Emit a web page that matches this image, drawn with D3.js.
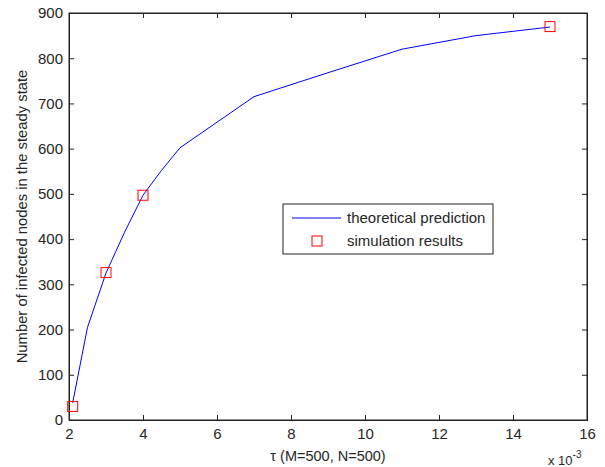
<!DOCTYPE html>
<html><head><meta charset="utf-8">
<script src="https://cdn.jsdelivr.net/npm/d3@7"></script>
<style>body{margin:0;background:#fff}svg{display:block}text{font-family:"Liberation Sans",Arial,sans-serif;fill:#262626}</style>
</head><body><svg id="c" width="605" height="467"></svg>
<script>
const theoryX = [2.1, 2.5, 3, 3.5, 4, 4.5, 5, 7, 9, 11, 13, 15];
const theoryY = [38, 205, 325, 415, 497, 552, 602, 715, 768, 820, 850, 869];
const simX = [2.1, 3, 4, 15];
const simY = [30, 326, 497, 870];
const xTicks = [2, 4, 6, 8, 10, 12, 14, 16];
const yTicks = [0, 100, 200, 300, 400, 500, 600, 700, 800, 900];
const xLabel = "τ (M=500, N=500)";
const yLabel = "Number of infected nodes in the steady state";
const legendLabels = ["theoretical prediction", "simulation results"];

const svg = d3.select("#c");
const L = 69, R = 587, T = 13, B = 420;
const x = d3.scaleLinear().domain([2, 16]).range([L, R]);
const y = d3.scaleLinear().domain([0, 900]).range([B, T]);
const fs = 15;

svg.append("rect").attr("x", L).attr("y", T).attr("width", R - L).attr("height", B - T)
  .attr("fill", "none").attr("stroke", "#222").attr("stroke-width", 1);

const tl = 5;
const gx = svg.append("g").attr("transform", `translate(0,${B})`)
  .call(d3.axisBottom(x).tickValues(xTicks).tickSize(-tl).tickPadding(8).tickFormat(d3.format("d")));
const gxt = svg.append("g").attr("transform", `translate(0,${T})`)
  .call(d3.axisTop(x).tickValues(xTicks).tickSize(-tl).tickFormat(""));
const gy = svg.append("g").attr("transform", `translate(${L},0)`)
  .call(d3.axisLeft(y).tickValues(yTicks).tickSize(-tl).tickPadding(6).tickFormat(d3.format("d")));
const gyr = svg.append("g").attr("transform", `translate(${R},0)`)
  .call(d3.axisRight(y).tickValues(yTicks).tickSize(-tl).tickFormat(""));
[gx, gxt, gy, gyr].forEach(g => {
  g.select(".domain").attr("stroke", "#222");
  g.selectAll(".tick line").attr("stroke", "#222");
  g.selectAll("text").attr("font-size", fs).attr("font-family", "Liberation Sans, Arial, sans-serif").attr("fill", "#262626");
});

const line = d3.line().x((d, i) => x(theoryX[i])).y(d => y(d));
svg.append("path").datum(theoryY).attr("d", line).attr("fill", "none")
  .attr("stroke", "#0000ff").attr("stroke-width", 1);

const ms = 10;
svg.selectAll("rect.m").data(simY).join("rect").attr("class", "m")
  .attr("x", (d, i) => x(simX[i]) - ms / 2).attr("y", d => y(d) - ms / 2)
  .attr("width", ms).attr("height", ms).attr("fill", "none").attr("stroke", "#ff0000").attr("stroke-width", 1);

svg.append("text").attr("x", (L + R) / 2).attr("y", 461).attr("text-anchor", "middle")
  .attr("font-size", 14.5).text(xLabel);
svg.append("text").attr("transform", `translate(27,${(T + B) / 2}) rotate(-90)`).attr("text-anchor", "middle")
  .attr("font-size", 14.8).text(yLabel);
const sc = svg.append("text").attr("x", 548).attr("y", 465).attr("font-size", 13);
sc.append("tspan").text("x 10");
sc.append("tspan").attr("dy", -7).attr("font-size", 10).text("-3");

const lg = svg.append("g");
lg.append("rect").attr("x", 283).attr("y", 204).attr("width", 210).attr("height", 50)
  .attr("fill", "#fff").attr("stroke", "#222").attr("stroke-width", 1);
lg.append("line").attr("x1", 292).attr("x2", 341).attr("y1", 218).attr("y2", 218).attr("stroke", "#0000ff");
lg.append("rect").attr("x", 312).attr("y", 236).attr("width", ms).attr("height", ms)
  .attr("fill", "none").attr("stroke", "#ff0000");
lg.selectAll("text").data(legendLabels).join("text").attr("x", 347).attr("y", (d, i) => 223 + i * 23)
  .attr("font-size", fs).text(d => d);
</script></body></html>
